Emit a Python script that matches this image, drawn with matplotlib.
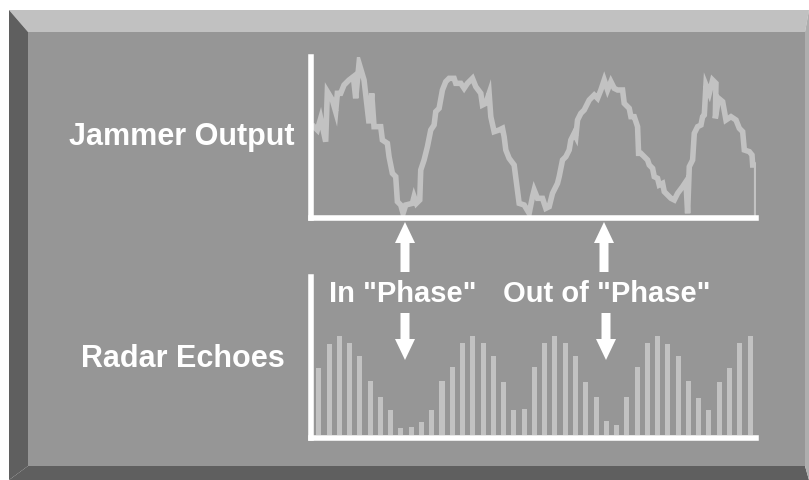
import matplotlib
matplotlib.use("Agg")
import matplotlib.pyplot as plt
from matplotlib.patches import Polygon

# ---------------- data ----------------
jammer_time = [45, 55, 65, 80, 85, 100, 110, 115, 125, 135, 150, 163, 170, 180, 195, 210, 218, 225,
               245, 250, 265, 270, 280, 290, 295, 305, 312, 320, 340, 345, 352, 362, 365, 375, 385,
               395, 405, 410, 420, 430, 440, 450, 465, 470, 485, 495, 505, 520, 530, 545, 550, 560,
               570, 575, 585, 600, 610, 615, 620, 630, 645, 655, 660, 675, 690, 700, 705, 715, 730,
               740, 750, 760, 775, 780, 790, 800, 810, 815, 825, 830, 835, 845, 855, 860, 870, 885,
               895, 905, 915, 925, 935, 945, 955, 970, 975, 990, 995, 1005, 1015, 1018, 1025, 1035,
               1045, 1050, 1060, 1065, 1075, 1080, 1090, 1095, 1105, 1115, 1125, 1135, 1150, 1160,
               1165, 1170, 1180, 1185, 1195, 1205, 1210, 1215, 1220, 1230, 1240, 1250, 1248, 1258,
               1270, 1280, 1295, 1310, 1320, 1330, 1335, 1350, 1358, 1360, 1372, 1372]
jammer_output = [265, 255, 290, 220, 370, 345, 310, 365, 365, 390, 405, 415, 350, 455, 405, 275, 365, 265,
                 265, 225, 215, 175, 125, 115, 40, 30, 5, 30, 35, 55, 35, 45, 135, 165, 205,
                 255, 270, 310, 320, 375, 400, 410, 410, 395, 395, 380, 395, 410, 385, 365, 330, 335,
                 365, 295, 250, 255, 260, 235, 195, 170, 150, 75, 35, 30, 5, 55, 75, 50, 50,
                 20, 25, 65, 95, 115, 165, 175, 195, 225, 245, 235, 285, 305, 315, 325, 345, 360,
                 350, 375, 405, 375, 400, 380, 375, 375, 335, 320, 295, 295, 265, 185, 185, 175,
                 165, 150, 140, 115, 110, 90, 95, 70, 60, 50, 45, 65, 85, 100,
                 5, 145, 165, 245, 265, 270, 295, 300, 390, 365, 405, 395, 290, 350,
                 340, 285, 295, 285, 260, 250, 195, 190, 180, 150, 150, 0]

radar_echoes = [200, 273, 298, 275, 238, 162, 113, 75, 22, 25, 40, 75, 162, 205, 275, 298,
                275, 238, 160, 75, 77, 205, 275, 298, 275, 238, 160, 115, 42, 30, 113, 205,
                275, 298, 273, 238, 162, 112, 75, 160, 200, 275, 298]
pulse_index = list(range(len(radar_echoes)))

labels = ["Jammer Output", "Radar Echoes"]
phase_labels = ['In "Phase"', 'Out of "Phase"']

# ---------------- style ----------------
FACE = "#969696"
LIGHT = "#c1c1c1"
DARK = "#5f5f5f"
RIGHT = "#aeaeae"
MARK = "#c2c2c2"
W, H = 809, 480
FONT = dict(family=["Liberation Sans", "DejaVu Sans"], weight="bold", color="white")

fig = plt.figure(figsize=(W / 100, H / 100), dpi=100, facecolor="white")

# background / frame axes in pixel coordinates
bg = fig.add_axes([0, 0, 1, 1])
bg.set_xlim(0, W)
bg.set_ylim(H, 0)
bg.axis("off")
bg.add_patch(Polygon([(9, 10), (809, 10), (805, 32), (28, 32)], closed=True, color=LIGHT, lw=0))
bg.add_patch(Polygon([(9, 10), (28, 32), (28, 466), (9, 480)], closed=True, color=DARK, lw=0))
bg.add_patch(Polygon([(9, 480), (28, 466), (805, 466), (809, 480)], closed=True, color=DARK, lw=0))
bg.add_patch(Polygon([(809, 10), (805, 32), (805, 466), (809, 480)], closed=True, color=RIGHT, lw=0))
bg.add_patch(Polygon([(28, 32), (805, 32), (805, 466), (28, 466)], closed=True, color=FACE, lw=0))


def arrow(x, y_tail, y_tip, head_len=21, head_w=20, shaft_w=9):
    d = 1 if y_tip > y_tail else -1
    yb = y_tip - d * head_len
    pts = [(x - shaft_w / 2, y_tail), (x + shaft_w / 2, y_tail), (x + shaft_w / 2, yb),
           (x + head_w / 2, yb), (x, y_tip), (x - head_w / 2, yb), (x - shaft_w / 2, yb)]
    bg.add_patch(Polygon(pts, closed=True, color="white", lw=0))


arrow(405, 272, 222)
arrow(604, 272, 222)
arrow(405, 313, 360)
arrow(606, 313, 360)

bg.text(182, 145, labels[0], ha="center", va="baseline", fontsize=22, **FONT)
bg.text(183, 367, labels[1], ha="center", va="baseline", fontsize=22, **FONT)
bg.text(403, 302, phase_labels[0], ha="center", va="baseline", fontsize=21, **FONT)
bg.text(607, 302, phase_labels[1], ha="center", va="baseline", fontsize=21, **FONT)


def chart_axes(left, top, right, bottom):
    ax = fig.add_axes([left / W, (H - bottom) / H, (right - left) / W, (bottom - top) / H])
    ax.patch.set_alpha(0)
    for s in ["top", "right"]:
        ax.spines[s].set_visible(False)
    for s in ["left", "bottom"]:
        ax.spines[s].set_color("white")
        ax.spines[s].set_linewidth(4)
    ax.set_xticks([])
    ax.set_yticks([])
    return ax


# top chart: jammer output
ax1 = chart_axes(311, 57, 756, 218)
ax1.plot(jammer_time, jammer_output, color=MARK, lw=4, solid_joinstyle="miter")
ax1.set_xlim(36, 1370)
ax1.set_ylim(-9, 474)

# bottom chart: radar echoes
ax2 = chart_axes(311, 277, 756, 437.5)
ax2.bar(pulse_index, radar_echoes, width=0.49, color=MARK, lw=0)
ax2.set_xlim(-0.76, 42.58)
ax2.set_ylim(-7.5, 474)

fig.savefig("out.png", dpi=100, facecolor="white")
